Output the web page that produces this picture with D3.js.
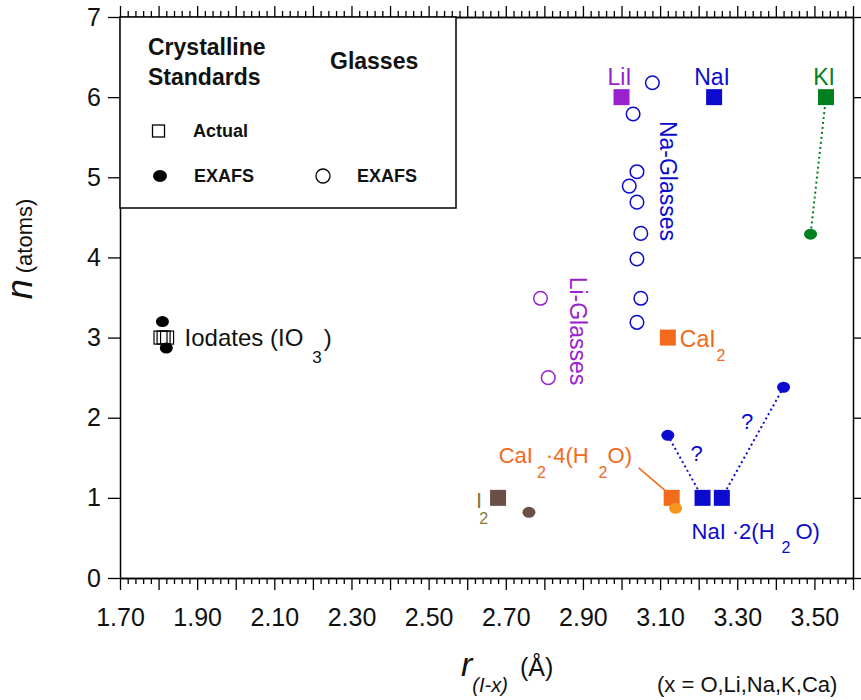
<!DOCTYPE html>
<html>
<head>
<meta charset="utf-8">
<script src="https://cdn.jsdelivr.net/npm/d3@7"></script>
<style>
    body { margin: 0; background: #fff; }
    svg { font-family: "Liberation Sans", Arial, Helvetica, sans-serif; }
    .axis path { stroke: #000; stroke-width: 1.5; }
    .axis line { stroke: #000; stroke-width: 1.3; }
    .axis text { font-size: 25px; fill: #111; font-family: "Liberation Sans", Arial, sans-serif; }
    .legend text { font-weight: bold; fill: #111; }
</style>
</head>
<body>
<div id="chart"></div>
<script>
// tick labels
let xTickLabels = [1.70, 1.90, 2.10, 2.30, 2.50, 2.70, 2.90, 3.10, 3.30, 3.50];
let yTicks = [0, 1, 2, 3, 4, 5, 6, 7];

// crystalline standards, actual coordination (squares)
let crystalActual = [
    {id: 'LiI', r: 3.00, n: 6},
    {id: 'NaI', r: 3.24, n: 6},
    {id: 'KI', r: 3.53, n: 6},
    {id: 'CaI2', r: 3.12, n: 3},
    {id: 'CaI2_4H2O', r: 3.13, n: 1},
    {id: 'I2', r: 2.68, n: 1},
    {id: 'NaI_2H2O', r: 3.21, n: 1},
    {id: 'NaI_2H2O', r: 3.26, n: 1},
    {id: 'IO3', r: 1.805, n: 3},
    {id: 'IO3', r: 1.813, n: 3},
    {id: 'IO3', r: 1.822, n: 3}
];

// crystalline standards, EXAFS fits (filled ellipses)
let crystalExafs = [
    {id: 'KI', r: 3.49, n: 4.29},
    {id: 'CaI2_4H2O', r: 3.14, n: 0.87},
    {id: 'I2', r: 2.76, n: 0.82},
    {id: 'NaI_2H2O', r: 3.12, n: 1.78},
    {id: 'NaI_2H2O', r: 3.42, n: 2.38},
    {id: 'IO3', r: 1.81, n: 3.20},
    {id: 'IO3', r: 1.82, n: 2.87}
];

// dotted links: [index in crystalActual, index in crystalExafs]
let exafsLinks = [[2, 0], [6, 3], [7, 4]];

// glasses, EXAFS (open circles)
let naGlassR = [3.08, 3.03, 3.04, 3.02, 3.04, 3.05, 3.04, 3.05, 3.04];
let naGlassN = [6.18, 5.79, 5.07, 4.89, 4.69, 4.30, 3.98, 3.49, 3.19];
let liGlassR = [2.79, 2.81];
let liGlassN = [3.49, 2.50];

let colors = {
    LiI: '#9a22cc', NaI: '#0b0bd0', KI: '#00801f', CaI2: '#f26a1b',
    CaI2_4H2O: '#f26a1b', I2: '#6b4e45', NaI_2H2O: '#0b0bd0', IO3: '#000'
};
let exafsColors = Object.assign({}, colors, {CaI2_4H2O: '#f7941e'});
let naColor = '#0b0bd0', liColor = '#9a22cc', i2Label = '#8a7a30';

let W = 861, H = 700;
let margin = {top: 17, right: 8, bottom: 122, left: 120};

let svg = d3.select('#chart').append('svg')
    .attr('width', W)
    .attr('height', H);

let x = d3.scaleLinear().domain([1.70, 3.60]).range([margin.left, W - margin.right]);
let y = d3.scaleLinear().domain([0, 7]).range([H - margin.bottom, margin.top]);

let majorTicks = d3.range(170, 361, 10).map(function(v) { return v / 100; });
let minorTicks = d3.range(170, 361, 2).filter(function(v) { return v % 10 !== 0; })
    .map(function(v) { return v / 100; });
let isLabel = function(d) {
    return xTickLabels.some(function(t) { return Math.abs(t - d) < 1e-6; });
};

// ----- axes ----- //
svg.append('g').attr('class', 'axis')
    .attr('transform', 'translate(0,' + y(0) + ')')
    .call(d3.axisBottom(x).tickValues(minorTicks).tickSize(6).tickSizeOuter(0).tickFormat(''));
let xb = svg.append('g').attr('class', 'axis')
    .attr('transform', 'translate(0,' + y(0) + ')')
    .call(d3.axisBottom(x).tickValues(majorTicks).tickSize(12).tickSizeOuter(0)
        .tickFormat(function(d) { return isLabel(d) ? d.toFixed(2) : ''; }));
xb.selectAll('text').attr('y', 48).attr('dy', 0);

svg.append('g').attr('class', 'axis')
    .attr('transform', 'translate(0,' + y(7) + ')')
    .call(d3.axisTop(x).tickValues(minorTicks).tickSize(6).tickSizeOuter(0).tickFormat(''));
svg.append('g').attr('class', 'axis')
    .attr('transform', 'translate(0,' + y(7) + ')')
    .call(d3.axisTop(x).tickValues(majorTicks).tickSize(11).tickSizeOuter(0).tickFormat(''));

svg.append('g').attr('class', 'axis')
    .attr('transform', 'translate(' + x(1.70) + ',0)')
    .call(d3.axisLeft(y).tickValues(yTicks).tickSize(12).tickPadding(7).tickSizeOuter(0)
        .tickFormat(d3.format('d')));
svg.append('g').attr('class', 'axis')
    .attr('transform', 'translate(' + x(3.60) + ',0)')
    .call(d3.axisRight(y).tickValues(yTicks).tickSize(12).tickSizeOuter(0).tickFormat(''));

// axis titles
let yt = svg.append('text')
    .attr('transform', 'translate(32,' + 249 + ') rotate(-90)')
    .attr('text-anchor', 'middle')
    .attr('fill', '#111');
yt.append('tspan').attr('font-size', 36).attr('font-style', 'italic').text('n');
yt.append('tspan').attr('font-size', 22).attr('dx', 6).text('(atoms)');

let xt = svg.append('text').attr('x', 461).attr('y', 676).attr('fill', '#111');
xt.append('tspan').attr('font-size', 34).attr('font-style', 'italic').text('r');
xt.append('tspan').attr('font-size', 20).attr('font-style', 'italic').attr('dx', 0).attr('dy', 16).text('(I-x)');
xt.append('tspan').attr('font-size', 25).attr('dx', 12).attr('dy', -16).text('(Å)');

svg.append('text')
    .attr('x', 657).attr('y', 692)
    .attr('font-size', 22).attr('fill', '#111')
    .text('(x = O,Li,Na,K,Ca)');

// ----- legend ----- //
let lg = svg.append('g').attr('class', 'legend');
lg.append('rect')
    .attr('x', x(1.70)).attr('y', y(7))
    .attr('width', 336).attr('height', 191)
    .attr('fill', '#fff').attr('stroke', '#000').attr('stroke-width', 1.5);
lg.append('text').attr('x', 148).attr('y', 55).attr('font-size', 23).text('Crystalline');
lg.append('text').attr('x', 148).attr('y', 85).attr('font-size', 23).text('Standards');
lg.append('text').attr('x', 330).attr('y', 69).attr('font-size', 23).text('Glasses');
lg.append('rect').attr('x', 152.5).attr('y', 125).attr('width', 12).attr('height', 12)
    .attr('fill', 'none').attr('stroke', '#000').attr('stroke-width', 1.3);
lg.append('text').attr('x', 193).attr('y', 137).attr('font-size', 18).text('Actual');
lg.append('ellipse').attr('cx', 160).attr('cy', 176).attr('rx', 7).attr('ry', 6).attr('fill', '#000');
lg.append('text').attr('x', 194).attr('y', 182).attr('font-size', 18).text('EXAFS');
lg.append('circle').attr('cx', 323).attr('cy', 176).attr('r', 7)
    .attr('fill', 'none').attr('stroke', '#000').attr('stroke-width', 1.3);
lg.append('text').attr('x', 357).attr('y', 182).attr('font-size', 18).text('EXAFS');

// ----- data marks ----- //
let plot = svg.append('g');

plot.selectAll('line.link')
    .data(exafsLinks)
    .enter().append('line')
    .attr('class', 'link')
    .attr('x1', function(d) { return x(crystalActual[d[0]].r); })
    .attr('y1', function(d) { return y(crystalActual[d[0]].n); })
    .attr('x2', function(d) { return x(crystalExafs[d[1]].r); })
    .attr('y2', function(d) { return y(crystalExafs[d[1]].n); })
    .attr('stroke', function(d) { return colors[crystalActual[d[0]].id]; })
    .attr('stroke-width', 2)
    .attr('stroke-dasharray', '2,3');

// CaI2.4(H2O) label leader
let caq = crystalActual[4];
plot.append('line')
    .attr('x1', x(caq.r) - 33).attr('y1', y(caq.n) - 30)
    .attr('x2', x(caq.r) - 5).attr('y2', y(caq.n) - 6)
    .attr('stroke', colors.CaI2_4H2O).attr('stroke-width', 1.5);

let sq = 16;
plot.selectAll('rect.actual')
    .data(crystalActual.filter(function(d) { return d.id !== 'IO3'; }))
    .enter().append('rect')
    .attr('class', 'actual')
    .attr('x', function(d) { return x(d.r) - sq / 2; })
    .attr('y', function(d) { return y(d.n) - sq / 2; })
    .attr('width', sq).attr('height', sq)
    .attr('fill', function(d) { return colors[d.id]; });

plot.selectAll('rect.iodate')
    .data(crystalActual.filter(function(d) { return d.id === 'IO3'; }))
    .enter().append('rect')
    .attr('class', 'iodate')
    .attr('x', function(d) { return x(d.r) - 6.5; })
    .attr('y', function(d) { return y(d.n) - 6.5; })
    .attr('width', 13).attr('height', 13)
    .attr('fill', 'none').attr('stroke', '#000').attr('stroke-width', 1.2);

plot.selectAll('ellipse.exafs')
    .data(crystalExafs)
    .enter().append('ellipse')
    .attr('class', 'exafs')
    .attr('cx', function(d) { return x(d.r); })
    .attr('cy', function(d) { return y(d.n); })
    .attr('rx', 6.5).attr('ry', 5.5)
    .attr('fill', function(d) { return exafsColors[d.id]; });

plot.selectAll('circle.na')
    .data(naGlassR)
    .enter().append('circle')
    .attr('class', 'na')
    .attr('cx', function(d) { return x(d); })
    .attr('cy', function(d, i) { return y(naGlassN[i]); })
    .attr('r', 6.8)
    .attr('fill', 'none').attr('stroke', naColor).attr('stroke-width', 1.5);

plot.selectAll('circle.li')
    .data(liGlassR)
    .enter().append('circle')
    .attr('class', 'li')
    .attr('cx', function(d) { return x(d); })
    .attr('cy', function(d, i) { return y(liGlassN[i]); })
    .attr('r', 6.8)
    .attr('fill', 'none').attr('stroke', liColor).attr('stroke-width', 1.5);

// ----- labels ----- //
let labels = svg.append('g').attr('font-size', 23);

[0, 1, 2].forEach(function(i) {
    let d = crystalActual[i];
    labels.append('text')
        .attr('x', x(d.r) - 2).attr('y', y(d.n) - 12)
        .attr('text-anchor', 'middle')
        .attr('fill', colors[d.id])
        .text(d.id);
});

let cai = crystalActual[3];
let t = labels.append('text').attr('x', x(cai.r) + 12).attr('y', y(cai.n) + 9).attr('fill', colors.CaI2);
t.append('tspan').text('CaI');
t.append('tspan').attr('font-size', 16).attr('dx', 1).attr('dy', 14).text('2');

t = labels.append('text').attr('x', x(caq.r) - 173).attr('y', y(caq.n) - 35)
    .attr('fill', colors.CaI2_4H2O).attr('font-size', 22);
t.append('tspan').text('CaI');
t.append('tspan').attr('font-size', 16).attr('dx', 4).attr('dy', 15).text('2');
t.append('tspan').attr('dx', 0).attr('dy', -15).text('·4(H');
t.append('tspan').attr('font-size', 16).attr('dx', 10).attr('dy', 15).text('2');
t.append('tspan').attr('dx', 0).attr('dy', -15).text('O)');

let nah = crystalActual[6];
t = labels.append('text').attr('x', x(nah.r) - 11).attr('y', y(nah.n) + 41)
    .attr('fill', colors.NaI_2H2O).attr('font-size', 22);
t.append('tspan').text('NaI');
t.append('tspan').attr('dx', 6).text('·2(H');
t.append('tspan').attr('font-size', 16).attr('dx', 7).attr('dy', 14).text('2');
t.append('tspan').attr('dx', 5).attr('dy', -14).text('O)');

let i2 = crystalActual[5];
t = labels.append('text').attr('x', x(i2.r) - 22).attr('y', y(i2.n) + 10)
    .attr('fill', i2Label).attr('font-size', 22);
t.append('tspan').text('I');
t.append('tspan').attr('font-size', 16).attr('dx', -3).attr('dy', 16).text('2');

let io = crystalActual[9];
t = labels.append('text').attr('x', x(io.r) + 21).attr('y', y(io.n) + 8)
    .attr('fill', '#111').attr('font-size', 24);
t.append('tspan').text('Iodates (IO');
t.append('tspan').attr('font-size', 17).attr('dx', 9).attr('dy', 17).text('3');
t.append('tspan').attr('dx', 2).attr('dy', -17).text(')');

// question marks on the NaI.2(H2O) links
[[1, 11.5, -6], [2, -5.5, -13.5]].forEach(function(q) {
    let l = exafsLinks[q[0]];
    let a = crystalActual[l[0]], b = crystalExafs[l[1]];
    labels.append('text')
        .attr('x', (x(a.r) + x(b.r)) / 2 + q[1])
        .attr('y', (y(a.n) + y(b.n)) / 2 + q[2])
        .attr('text-anchor', 'middle')
        .attr('fill', naColor).attr('font-size', 22)
        .text('?');
});

labels.append('text')
    .attr('transform', 'translate(660,' + 181 + ') rotate(90)')
    .attr('text-anchor', 'middle')
    .attr('fill', naColor)
    .text('Na-Glasses');
labels.append('text')
    .attr('transform', 'translate(570,' + 331 + ') rotate(90)')
    .attr('text-anchor', 'middle')
    .attr('fill', liColor)
    .text('Li-Glasses');
</script>
</body>
</html>
